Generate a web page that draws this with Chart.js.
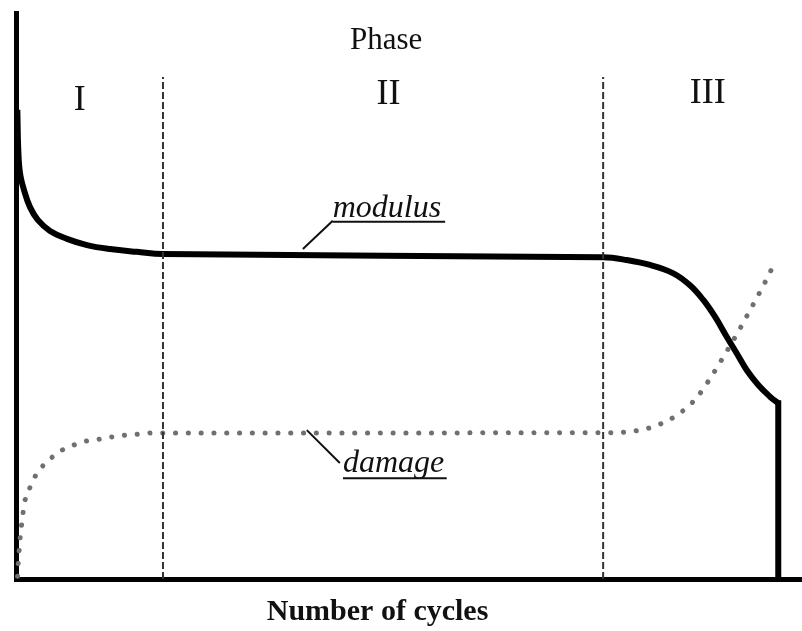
<!DOCTYPE html>
<html>
<head>
<meta charset="utf-8">
<script src="https://cdn.jsdelivr.net/npm/chart.js@4"></script>
<style>
  html, body { margin: 0; padding: 0; background: #fff; }
  #wrap { width: 802px; height: 631px; }
</style>
</head>
<body>
<div id="wrap"><canvas id="fatigueChart" width="802" height="631"></canvas></div>
<script>
// === DATA (x = fatigue life fraction, y = normalised value) ===
const modulusX = [0.17, 0.29, 0.51, 1.02, 1.78, 2.80, 4.33, 6.49, 9.03, 11.96, 15.39, 18.70, 74.72, 77.70, 80.66, 83.63, 85.75, 87.44, 88.93, 90.42, 91.69, 92.96, 94.44, 95.93, 96.98];
const modulusY = [82.9, 75.8, 71.7, 68.7, 65.7, 63.4, 61.5, 60.1, 59.0, 58.3, 57.8, 57.4, 56.84, 56.36, 55.48, 54.01, 51.9, 49.3, 46.34, 42.81, 39.88, 36.93, 34.28, 32.21, 31.04];
const fractureX = [96.98, 96.98];
const fractureY = [31.04, 0];
const damageX = [0.2, 0.2, 0.5, 0.9, 1.1, 1.7, 2.3, 3.3, 4.5, 5.9, 7.4, 9.0, 10.6, 12.2, 13.9, 15.5, 17.2, 18.7, 74.94, 78.03, 81.08, 84.13, 86.60, 88.51, 90.20, 91.89, 93.47, 95.08, 96.56];
const damageY = [0.5, 2.1, 6.9, 11.7, 13.6, 15.9, 17.8, 19.8, 21.4, 22.8, 23.7, 24.4, 24.7, 25.1, 25.4, 25.6, 25.8, 25.8, 25.85, 26.02, 26.91, 28.98, 32.03, 35.87, 39.70, 43.69, 47.70, 51.82, 55.95];
const phaseBounds = [18.7, 74.7];
const phaseTop = 88.7;
const phaseLabels = ["I", "II", "III"];
const phaseLabelX = [8.1, 47.4, 88.0];
const phaseLabelY = [82.9, 83.9, 84.1];

const toPoints = (xs, ys) => xs.map((x, i) => ({ x: x, y: ys[i] }));

// Lineas verticales de fase
const phaseSets = phaseBounds.map(b => ({
    data: [{ x: b, y: 0 }, { x: b, y: phaseTop }],
    borderColor: '#333',
    borderWidth: 2,
    borderDash: [7, 3],
    pointRadius: 0,
    clip: false
}));

// === TEXTOS / ANOTACIONES ===
const annotations = {
    id: 'annotations',
    afterDatasetsDraw(chart) {
        const { ctx, scales: { x, y } } = chart;
        const px = v => x.getPixelForValue(v);
        const py = v => y.getPixelForValue(v);
        ctx.save();
        ctx.fillStyle = '#111';
        ctx.textBaseline = 'alphabetic';

        // Titulo "Phase" y numeros romanos
        ctx.textAlign = 'center';
        ctx.font = '31px "Liberation Serif", "Times New Roman", serif';
        ctx.fillText('Phase', px(47.1), py(93.6));
        ctx.font = '36px "Liberation Serif", "Times New Roman", serif';
        phaseLabels.forEach((t, i) => ctx.fillText(t, px(phaseLabelX[i]), py(phaseLabelY[i])));

        // Titulo del eje X
        ctx.font = 'bold 30px "Liberation Serif", "Times New Roman", serif';
        ctx.fillText('Number of cycles', px(46.0), py(-7.2));

        // Etiquetas de curvas con linea guia y subrayado
        ctx.textAlign = 'left';
        ctx.font = 'italic 32px "Liberation Serif", "Times New Roman", serif';
        ctx.strokeStyle = '#111';
        ctx.lineWidth = 2;
        const label = (text, tx, ty, ux2, uy, l1, l2) => {
            ctx.fillText(text, px(tx), py(ty));
            ctx.beginPath();
            ctx.moveTo(px(tx), py(uy));
            ctx.lineTo(px(ux2), py(uy));
            ctx.moveTo(px(l1[0]), py(l1[1]));
            ctx.lineTo(px(l2[0]), py(l2[1]));
            ctx.stroke();
        };
        label('modulus', 40.3, 64.0, 54.6, 63.1, [36.5, 58.3], [40.3, 63.3]);
        label('damage', 41.6, 18.9, 54.8, 17.8, [37.0, 26.3], [41.2, 20.5]);
        ctx.restore();
    }
};

new Chart(document.getElementById('fatigueChart'), {
    type: 'line',
    data: {
        datasets: [
            ...phaseSets,
            {
                label: 'damage',
                data: toPoints(damageX, damageY),
                borderColor: '#707070',
                borderWidth: 5,
                borderDash: [0.1, 12.7],
                borderCapStyle: 'round',
                cubicInterpolationMode: 'monotone',
                pointRadius: 0,
                clip: false
            },
            {
                label: 'modulus',
                data: toPoints(modulusX, modulusY),
                borderColor: '#000',
                borderWidth: 6,
                tension: 0.4,
                pointRadius: 0,
                clip: false
            },
            {
                label: 'fracture',
                data: toPoints(fractureX, fractureY),
                borderColor: '#000',
                borderWidth: 6,
                borderCapStyle: 'square',
                pointRadius: 0,
                clip: false
            }
        ]
    },
    options: {
        responsive: false,
        animation: false,
        layout: { padding: { left: 16, right: 0, top: 13, bottom: 52 } },
        plugins: { legend: { display: false }, tooltip: { enabled: false } },
        scales: {
            x: {
                type: 'linear', min: 0, max: 100,
                grid: { display: false, drawTicks: false, tickLength: 0 },
                ticks: { display: false },
                border: { display: true, color: '#000', width: 5 }
            },
            y: {
                type: 'linear', min: 0, max: 100,
                grid: { display: false, drawTicks: false, tickLength: 0 },
                ticks: { display: false },
                border: { display: true, color: '#000', width: 5 }
            }
        }
    },
    plugins: [annotations]
});
</script>
</body>
</html>
